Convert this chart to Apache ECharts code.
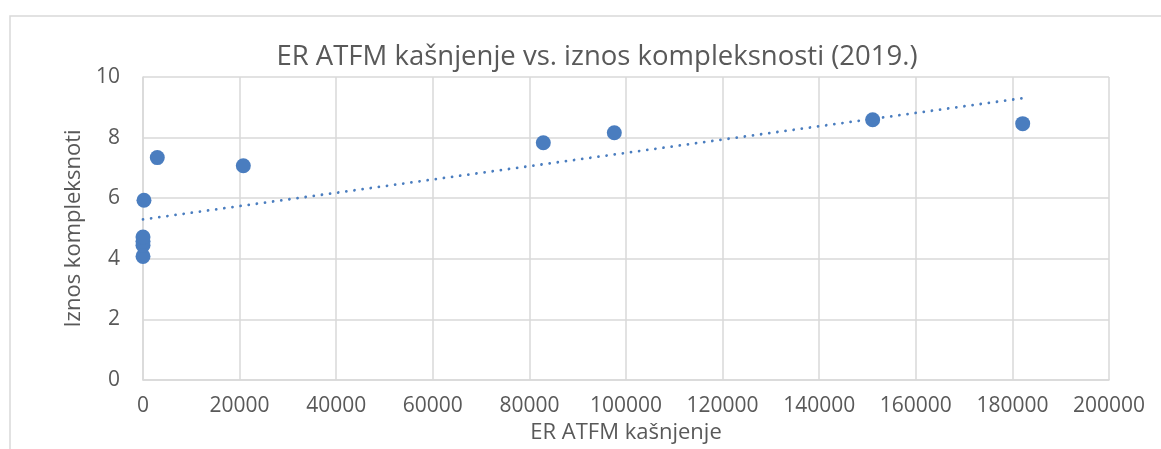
<!DOCTYPE html>
<html>
<head>
<meta charset="utf-8">
<script src="https://cdn.jsdelivr.net/npm/echarts@6/dist/echarts.min.js"></script>
<style>
  html, body { margin: 0; padding: 0; background: #fff; }
  #chart { width: 1161px; height: 449px; }
</style>
</head>
<body>
<div id="chart"></div>
<script>
// ER ATFM kašnjenje (x) i iznos kompleksnosti (y), procitano sa slike
const delayValues = [0, 0, 0, 0, 200, 2960, 20770, 82880, 97580, 151070, 182130];
const complexityValues = [4.08, 4.45, 4.58, 4.72, 5.93, 7.34, 7.07, 7.83, 8.16, 8.59, 8.46];
// linearni trend (krajnje tocke procitane sa slike)
const trendX = [0, 182130];
const trendY = [5.3, 9.3];
const xTicks = [0, 20000, 40000, 60000, 80000, 100000, 120000, 140000, 160000, 180000, 200000];
const yTicks = [0, 2, 4, 6, 8, 10];

const font = "'Open Sans', Lato, sans-serif";
const grey = "#d9d9d9";
const textColor = "#595959";
const blue = "#4a7dbf";

const chart = echarts.init(document.getElementById("chart"));

const option = {
  animation: false,
  backgroundColor: "#fff",
  textStyle: { fontFamily: font },
  graphic: [
    {
      type: "rect",
      shape: { x: 10, y: 16, width: 1300, height: 600 },
      style: { fill: "none", stroke: grey, lineWidth: 1.5 },
      silent: true
    }
  ],
  title: {
    text: "ER ATFM kašnjenje vs. iznos kompleksnosti (2019.)",
    left: 592,
    textAlign: "center",
    top: 38,
    textStyle: {
      fontFamily: font,
      fontSize: 27.5,
      fontWeight: "normal",
      color: textColor
    }
  },
  grid: {
    left: 143,
    right: 52,
    top: 77,
    bottom: 66
  },
  xAxis: {
    type: "value",
    min: xTicks[0],
    max: xTicks[xTicks.length - 1],
    interval: 20000,
    name: "ER ATFM kašnjenje",
    nameLocation: "middle",
    nameGap: 42,
    nameTextStyle: { fontFamily: font, fontSize: 22, color: textColor },
    axisLine: { show: true, lineStyle: { color: grey, width: 1.5 } },
    axisTick: { show: false },
    axisLabel: {
      fontFamily: font,
      fontSize: 21,
      color: textColor,
      margin: 16,
      formatter: v => String(v)
    },
    splitLine: { show: true, lineStyle: { color: grey, width: 1.5 } }
  },
  yAxis: {
    type: "value",
    min: yTicks[0],
    max: yTicks[yTicks.length - 1],
    interval: 2,
    name: "Iznos kompleksnoti",
    nameLocation: "middle",
    nameGap: 57,
    nameTextStyle: { fontFamily: font, fontSize: 22, color: textColor },
    axisLine: { show: true, lineStyle: { color: grey, width: 1.5 } },
    axisTick: { show: false },
    axisLabel: { fontFamily: font, fontSize: 21, color: textColor, margin: 23 },
    splitLine: { show: true, lineStyle: { color: grey, width: 1.5 } }
  },
  series: [
    {
      name: "trend",
      type: "line",
      data: trendX.map((x, i) => [x, trendY[i]]),
      showSymbol: false,
      symbol: "none",
      lineStyle: { color: blue, width: 2.8, type: [0.01, 8.2], cap: "round" },
      z: 3
    },
    {
      name: "podaci",
      type: "scatter",
      data: delayValues.map((x, i) => [x, complexityValues[i]]),
      symbolSize: 15,
      itemStyle: { color: blue, opacity: 1 },
      z: 4
    }
  ]
};

chart.setOption(option);
window.addEventListener("resize", () => chart.resize());
</script>
</body>
</html>
